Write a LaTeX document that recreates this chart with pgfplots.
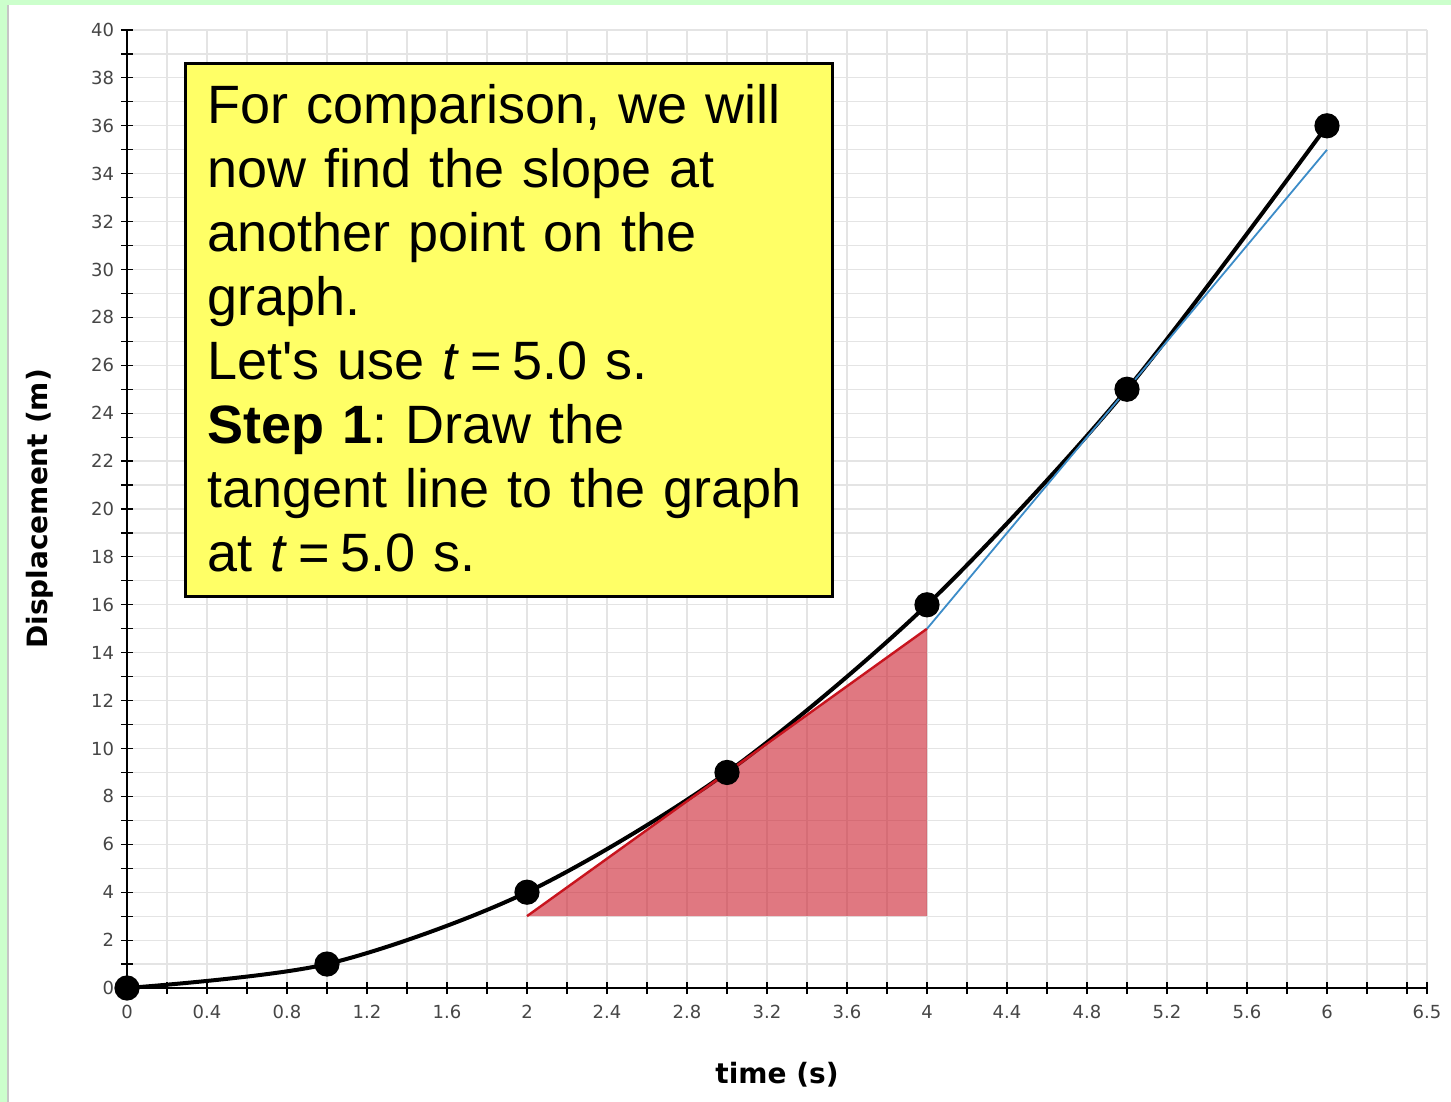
\documentclass[border=0pt]{standalone}
\usepackage{fontspec}
\setmainfont{Liberation Sans}
\newfontfamily\dejavu{DejaVu Sans}
\usepackage{pgfplots}
\pgfplotsset{compat=1.18}
\definecolor{bgreen}{RGB}{204,255,204}
\definecolor{boxyellow}{RGB}{255,255,102}
\definecolor{trired}{RGB}{204,31,45}
\definecolor{tanred}{RGB}{200,20,30}
\definecolor{tanblue}{RGB}{60,140,200}
\definecolor{gridgray}{RGB}{228,228,228}
\definecolor{ticklab}{RGB}{70,70,70}
\frenchspacing
\begin{document}
\begin{tikzpicture}
\fill[white] (0,0) rectangle (725.5bp,551bp);
\fill[bgreen] (0,548.5bp) rectangle (725.5bp,551bp);
\fill[bgreen] (0,0) rectangle (3.25bp,551bp);
\fill[gray!45] (3.5bp,0) rectangle (4.5bp,548.5bp);
\begin{axis}[
  at={(63.5bp,57bp)}, anchor=south west,
  scale only axis, width=650bp, height=479bp,
  xmin=0, xmax=6.5, ymin=0, ymax=40,
  clip=false,
  axis lines=left, axis line style={-, black, line width=0.8pt},
  xtick={0,0.4,0.8,1.2,1.6,2,2.4,2.8,3.2,3.6,4,4.4,4.8,5.2,5.6,6,6.5},
  xticklabels={0,0.4,0.8,1.2,1.6,2,2.4,2.8,3.2,3.6,4,4.4,4.8,5.2,5.6,6,6.5},
  minor xtick={0.2,0.6,1.0,1.4,1.8,2.2,2.6,3.0,3.4,3.8,4.2,4.6,5.0,5.4,5.8,6.2,6.4},
  ytick={0,2,...,40},
  yticklabels={0,2,4,6,8,10,12,14,16,18,20,22,24,26,28,30,32,34,36,38,40},
  minor ytick={1,3,...,39},
  grid=both,
  grid style={gridgray, line width=0.6pt},
  major grid style={gridgray, line width=0.6pt},
  minor grid style={gridgray, line width=0.6pt},
  tick align=center, major tick length=6bp, minor tick length=6bp,
  tick style={black, line width=0.6pt},
  ticklabel style={font=\dejavu\fontsize{9bp}{10bp}\selectfont, text=ticklab},
  xticklabel style={yshift=-2bp},
  xlabel={time (s)}, ylabel={Displacement (m)},
  label style={font=\dejavu\bfseries\fontsize{14bp}{16bp}\selectfont},
  xlabel style={at={([yshift=-43.5bp]axis description cs:0.5,0)}, anchor=center},
  ylabel style={at={([xshift=-43.5bp]axis description cs:0,0.5)}, anchor=center},
]
\addplot[black, line width=2bp, smooth, mark=*, mark size=5.3bp, mark options={fill=black, solid}]
  coordinates {(0,0) (1,1) (2,4) (3,9) (4,16) (5,25) (6,36)};
\addplot[draw=none, fill=trired, fill opacity=0.6]
  coordinates {(2,3) (4,3) (4,15) (2,3)};
\addplot[tanred, line width=1.2bp] coordinates {(2,3) (4,15)};
\addplot[tanblue, line width=0.9bp] coordinates {(4,15) (6,35)};
\draw[black, line width=1.5bp, fill=boxyellow] (axis cs:0.29,16.33) rectangle (axis cs:3.525,38.62);
\node[anchor=base west, inner sep=0pt, text width=310bp, align=left,
      font=\fontsize{27bp}{32bp}\selectfont] at (axis cs:0.40,36.08)
 {For comparison, we will\\
  now find the slope at\\
  another point on the\\
  graph.\\
  Let\textquotesingle s use \textit{t}\hspace{0.2em}=\hspace{0.2em}5.0 s.\\
  \textbf{Step 1}: Draw the\\
  tangent line to the graph\\
  at \textit{t}\hspace{0.2em}=\hspace{0.2em}5.0 s.};
\end{axis}
\pgfresetboundingbox
\path[use as bounding box] (0,0) rectangle (725.5bp,551bp);
\end{tikzpicture}
\end{document}
